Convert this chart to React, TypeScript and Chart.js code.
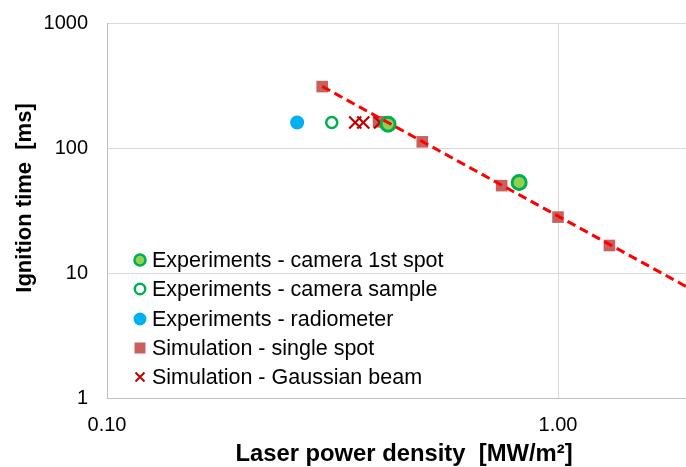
import React, { useEffect, useRef } from "react";
import { Chart, registerables } from "chart.js";

Chart.register(...registerables);

// Data
const camera1stX = [0.42, 0.82];
const camera1stY = [155, 53];
const cameraSampleX = [0.315];
const cameraSampleY = [160];
const radiometerX = [0.264];
const radiometerY = [160];
const singleSpotX = [0.3, 0.4, 0.5, 0.75, 1.0, 1.3];
const singleSpotY = [310, 162, 112, 50, 28, 16.6];
const gaussianX = [0.355, 0.37, 0.403];
const gaussianY = [160, 160, 160];
const trendX = [0.3, 1.922];
const trendY = [311, 7.8];

const xTicks = [0.1, 1];
const yTicks = [1, 10, 100, 1000];

const legendLabels = [
  "Experiments - camera 1st spot",
  "Experiments - camera sample",
  "Experiments - radiometer",
  "Simulation - single spot",
  "Simulation - Gaussian beam",
];

const pts = (xs: number[], ys: number[]) => xs.map((x, i) => ({ x, y: ys[i] }));

const FONT = "'Liberation Sans', Arial, sans-serif";

const zeroPad = (s: any) => {
  s.paddingTop = 0;
  s.paddingBottom = 0;
  s.paddingLeft = 0;
  s.paddingRight = 0;
};

export default function App() {
  const ref = useRef<HTMLCanvasElement | null>(null);

  useEffect(() => {
    document.body.style.margin = "0";
    const canvas = ref.current!;
    const overlay = {
      id: "overlay",
      afterDraw(chart: any) {
        const ctx = chart.ctx;
        ctx.save();
        // axis titles
        ctx.fillStyle = "#000";
        ctx.textAlign = "center";
        ctx.textBaseline = "middle";
        ctx.font = `bold 23.8px ${FONT}`;
        ctx.fillText("Laser power density  [MW/m\u00B2]", 404, 454);
        ctx.save();
        ctx.translate(25, 198);
        ctx.rotate(-Math.PI / 2);
        ctx.font = `bold 22px ${FONT}`;
        ctx.fillText("Ignition time  [ms]", 0, 0);
        ctx.restore();

        // legend
        const lx = 140;
        const tx = 152;
        const ys = [260, 289, 319, 348, 377];
        ctx.font = `21.5px ${FONT}`;
        ctx.textAlign = "left";
        ctx.textBaseline = "middle";
        ys.forEach((y, i) => {
          ctx.fillStyle = "#000";
          ctx.fillText(legendLabels[i], tx, y + 1);
        });
        // 1: filled green circle
        ctx.beginPath();
        ctx.arc(lx, ys[0], 5.5, 0, Math.PI * 2);
        ctx.fillStyle = "#92D050";
        ctx.fill();
        ctx.lineWidth = 2.5;
        ctx.strokeStyle = "#00B050";
        ctx.stroke();
        // 2: open circle
        ctx.beginPath();
        ctx.arc(lx, ys[1], 5.2, 0, Math.PI * 2);
        ctx.fillStyle = "#fff";
        ctx.fill();
        ctx.lineWidth = 2.5;
        ctx.strokeStyle = "#00B050";
        ctx.stroke();
        // 3: blue circle
        ctx.beginPath();
        ctx.arc(lx, ys[2], 6.5, 0, Math.PI * 2);
        ctx.fillStyle = "#00B0F0";
        ctx.fill();
        // 4: square
        ctx.fillStyle = "rgba(192,80,77,0.9)";
        ctx.fillRect(lx - 5.5, ys[3] - 5.5, 11, 11);
        // 5: cross
        ctx.strokeStyle = "#C00000";
        ctx.lineWidth = 2;
        ctx.beginPath();
        ctx.moveTo(lx - 4.5, ys[4] - 4.5);
        ctx.lineTo(lx + 4.5, ys[4] + 4.5);
        ctx.moveTo(lx + 4.5, ys[4] - 4.5);
        ctx.lineTo(lx - 4.5, ys[4] + 4.5);
        ctx.stroke();
        ctx.restore();
      },
    };

    const chart = new Chart(canvas, {
      type: "scatter",
      data: {
        datasets: [
          {
            label: "trend",
            type: "line",
            data: pts(trendX, trendY),
            borderColor: "#FF0000",
            borderWidth: 3,
            borderDash: [9, 5],
            pointRadius: 0,
            fill: false,
            order: 0,
          } as any,
          {
            label: legendLabels[0],
            data: pts(camera1stX, camera1stY),
            pointStyle: "circle",
            pointRadius: 7,
            pointBorderWidth: 3,
            backgroundColor: "#92D050",
            borderColor: "#00B050",
            order: 1,
          },
          {
            label: legendLabels[1],
            data: pts(cameraSampleX, cameraSampleY),
            pointStyle: "circle",
            pointRadius: 5.5,
            pointBorderWidth: 2.5,
            backgroundColor: "#fff",
            borderColor: "#00B050",
            order: 2,
          },
          {
            label: legendLabels[2],
            data: pts(radiometerX, radiometerY),
            pointStyle: "circle",
            pointRadius: 7,
            pointBorderWidth: 0,
            backgroundColor: "#00B0F0",
            borderColor: "#00B0F0",
            order: 4,
          },
          {
            label: legendLabels[3],
            data: pts(singleSpotX, singleSpotY),
            pointStyle: "rect",
            pointRadius: 8.2,
            pointBorderWidth: 0,
            backgroundColor: "rgba(192,80,77,0.9)",
            borderColor: "rgba(192,80,77,0.9)",
            order: 5,
          },
          {
            label: legendLabels[4],
            data: pts(gaussianX, gaussianY),
            pointStyle: "crossRot",
            pointRadius: 8.5,
            pointBorderWidth: 2.2,
            backgroundColor: "#C00000",
            borderColor: "#C00000",
            order: 3,
          },
        ],
      },
      options: {
        responsive: false,
        animation: false,
        events: [],
        layout: { autoPadding: false, padding: { top: 23, right: 0, left: 0, bottom: 0 } },
        plugins: {
          legend: { display: false },
          tooltip: { enabled: false },
        },
        scales: {
          x: {
            type: "logarithmic",
            min: 0.1,
            max: 1.922,
            afterBuildTicks: (s: any) => {
              s.ticks = xTicks.map((v) => ({ value: v }));
            },
            afterFit: (s: any) => {
              s.height = 69;
              zeroPad(s);
            },
            grid: { color: "#D9D9D9", lineWidth: 1, drawTicks: false },
            border: { color: "#BFBFBF", width: 1 },
            ticks: {
              padding: 15,
              color: "#000",
              font: { family: FONT, size: 20 },
              maxRotation: 0,
              autoSkip: false,
              callback: (v: any) => Number(v).toFixed(2),
            },
          },
          y: {
            type: "logarithmic",
            min: 1,
            max: 1000,
            afterBuildTicks: (s: any) => {
              s.ticks = yTicks.map((v) => ({ value: v }));
            },
            afterFit: (s: any) => {
              s.width = 107;
              zeroPad(s);
            },
            grid: { color: "#D9D9D9", lineWidth: 1, drawTicks: false },
            border: { color: "#BFBFBF", width: 1 },
            ticks: {
              padding: 19,
              color: "#000",
              font: { family: FONT, size: 20 },
              autoSkip: false,
              callback: (v: any) => String(Number(v)),
            },
          },
        },
      } as any,
      plugins: [overlay],
    });
    return () => chart.destroy();
  }, []);

  return (
    <div style={{ position: "absolute", left: 0, top: 0, width: 686, height: 467, background: "#fff" }}>
      <canvas ref={ref} width={686} height={467} style={{ width: 686, height: 467 }} />
    </div>
  );
}
